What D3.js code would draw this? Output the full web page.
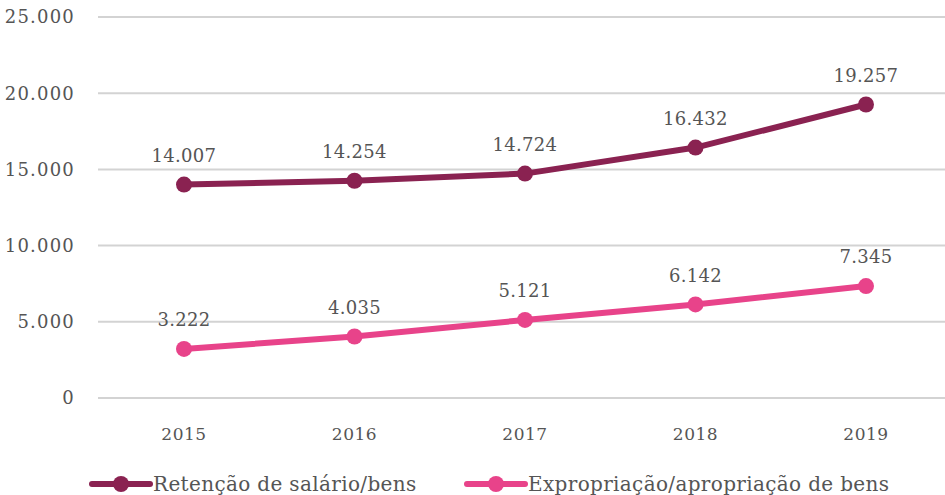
<!DOCTYPE html>
<html>
<head>
<meta charset="utf-8">
<script src="https://cdn.jsdelivr.net/npm/d3@7"></script>
<style>
  body { margin: 0; background: #fff; }
  svg text { font-family: "DejaVu Serif", serif; fill: #555; }
</style>
</head>
<body>
<svg id="chart" width="945" height="495"></svg>
<script>
const years = ["2015", "2016", "2017", "2018", "2019"];
const retencao = [14007, 14254, 14724, 16432, 19257];
const expropriacao = [3222, 4035, 5121, 6142, 7345];
const yTicks = [0, 5000, 10000, 15000, 20000, 25000];
const seriesNames = ["Retenção de salário/bens", "Expropriação/apropriação de bens"];
const colors = ["#8a2251", "#e8438a"];

const svg = d3.select("#chart");
const fmt = v => d3.format(",")(v).replace(/,/g, ".");

const x = d3.scalePoint().domain(years).range([184, 866]);
const y = d3.scaleLinear().domain([0, 25000]).range([398, 17]);

// gridlines
svg.append("g")
  .selectAll("line")
  .data(yTicks)
  .join("line")
  .attr("x1", 98).attr("x2", 945)
  .attr("y1", d => y(d)).attr("y2", d => y(d))
  .attr("stroke", "#d3d3d3")
  .attr("stroke-width", 2);

// y axis labels
svg.append("g")
  .selectAll("text")
  .data(yTicks)
  .join("text")
  .attr("x", 75)
  .attr("y", d => y(d))
  .attr("dy", "0.35em")
  .attr("text-anchor", "end")
  .attr("font-size", 18)
  .attr("letter-spacing", 1.2)
  .text(d => fmt(d));

// x axis labels
svg.append("g")
  .selectAll("text")
  .data(years)
  .join("text")
  .attr("x", d => x(d))
  .attr("y", 434)
  .attr("dy", "0.35em")
  .attr("text-anchor", "middle")
  .attr("font-size", 17)
  .attr("letter-spacing", 0.5)
  .text(d => d);

const line = d3.line()
  .x((d, i) => x(years[i]))
  .y(d => y(d));

[retencao, expropriacao].forEach((vals, s) => {
  const g = svg.append("g");
  g.append("path")
    .datum(vals)
    .attr("d", line)
    .attr("fill", "none")
    .attr("stroke", colors[s])
    .attr("stroke-width", 6)
    .attr("stroke-linejoin", "round");
  g.selectAll("circle")
    .data(vals)
    .join("circle")
    .attr("cx", (d, i) => x(years[i]))
    .attr("cy", d => y(d))
    .attr("r", 8)
    .attr("fill", colors[s]);
  g.selectAll("text")
    .data(vals)
    .join("text")
    .attr("x", (d, i) => x(years[i]))
    .attr("y", d => y(d) - 29)
    .attr("dy", "0.35em")
    .attr("text-anchor", "middle")
    .attr("font-size", 18)
    .attr("letter-spacing", 0.3)
    .text(d => fmt(d));
});

// legend
const legendX = [92, 467];
seriesNames.forEach((name, s) => {
  const lg = svg.append("g").attr("transform", `translate(${legendX[s]},484)`);
  lg.append("line")
    .attr("x1", 0).attr("x2", 58)
    .attr("stroke", colors[s])
    .attr("stroke-width", 6)
    .attr("stroke-linecap", "round");
  lg.append("circle")
    .attr("cx", 29).attr("r", 8)
    .attr("fill", colors[s]);
  lg.append("text")
    .attr("x", 61)
    .attr("dy", "0.35em")
    .attr("font-size", 20)
    .attr("letter-spacing", 0.35)
    .text(name);
});
</script>
</body>
</html>
